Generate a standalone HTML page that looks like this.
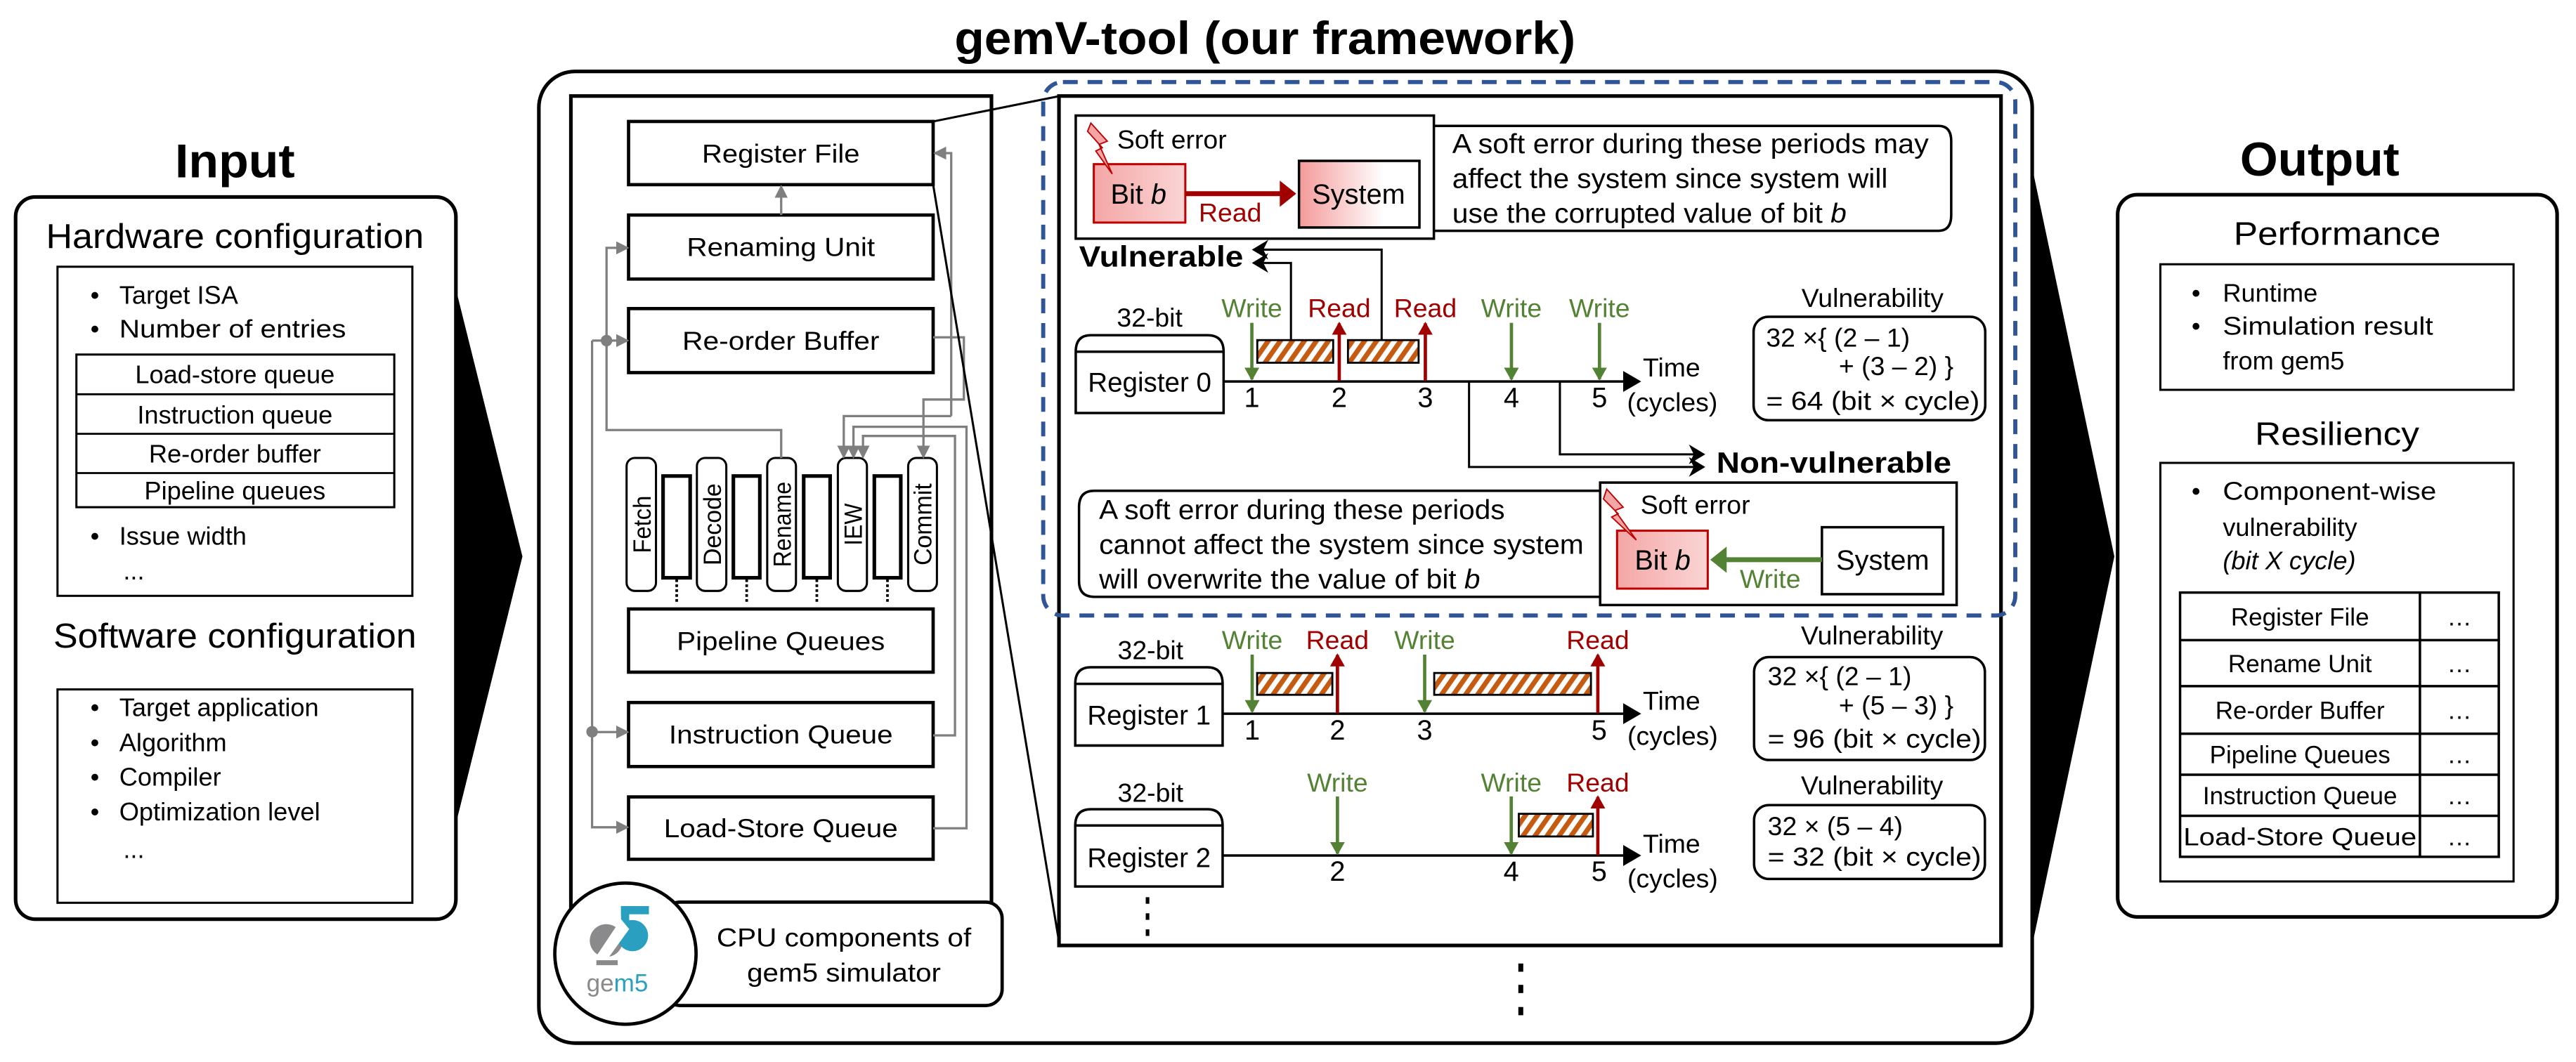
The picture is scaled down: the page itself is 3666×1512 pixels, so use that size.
<!DOCTYPE html>
<html><head><meta charset="utf-8"><style>html,body{margin:0;padding:0;background:#fff}svg{display:block}</style></head><body>
<svg width="3666" height="1512" viewBox="0 0 1568 647" preserveAspectRatio="none" xmlns="http://www.w3.org/2000/svg" font-family="Liberation Sans, Arial, sans-serif">
<defs>
<pattern id="hatch" patternUnits="userSpaceOnUse" width="6" height="6" patternTransform="rotate(35)">
<rect width="6" height="6" fill="#fff"/><rect width="3" height="6" fill="#c55a11"/></pattern>
<linearGradient id="pinkL" x1="0" x2="1"><stop offset="0" stop-color="#f4a6a6"/><stop offset="1" stop-color="#fbd5d5"/></linearGradient>
<linearGradient id="pinkW" x1="0" x2="1"><stop offset="0" stop-color="#f49a9a"/><stop offset="0.7" stop-color="#fff"/></linearGradient>
<marker id="ga" markerWidth="8" markerHeight="8" refX="7" refY="4" orient="auto" markerUnits="userSpaceOnUse"><path d="M0,0 L8,4 L0,8z" fill="#7f7f7f"/></marker>
<marker id="ba" markerWidth="10" markerHeight="12" refX="9" refY="6" orient="auto" markerUnits="userSpaceOnUse"><path d="M0,0 L10,6 L0,12 L3,6z" fill="#000"/></marker>
<marker id="gr" markerWidth="8" markerHeight="9" refX="7" refY="4.5" orient="auto" markerUnits="userSpaceOnUse"><path d="M0,0 L8,4.5 L0,9z" fill="#548235"/></marker>
<marker id="rd" markerWidth="8" markerHeight="9" refX="7" refY="4.5" orient="auto" markerUnits="userSpaceOnUse"><path d="M0,0 L8,4.5 L0,9z" fill="#a00000"/></marker>
</defs>

<text x="770" y="33" font-size="28" font-weight="bold" text-anchor="middle" textLength="378" lengthAdjust="spacingAndGlyphs">gemV-tool (our framework)</text>

<!-- INPUT -->
<text x="143" y="108" font-size="29" font-weight="bold" text-anchor="middle" textLength="73" lengthAdjust="spacingAndGlyphs">Input</text>
<polygon points="270,146 318,339 270,532" fill="#000"/>
<rect x="9.5" y="120" width="268" height="440" rx="12" fill="#fff" stroke="#000" stroke-width="2.2"/>
<text x="143" y="151" font-size="21" text-anchor="middle" textLength="230" lengthAdjust="spacingAndGlyphs">Hardware configuration</text>
<rect x="35" y="162.5" width="216" height="200.5" fill="none" stroke="#000" stroke-width="1.3"/>
<g font-size="15.5">
<text x="55" y="185">•</text><text x="72.6" y="185">Target ISA</text>
<text x="55" y="205.7">•</text><text x="72.6" y="205.7" textLength="138" lengthAdjust="spacingAndGlyphs">Number of entries</text>
<rect x="46.5" y="216" width="193.5" height="93" fill="none" stroke="#000" stroke-width="1.3"/>
<line x1="46.5" y1="240.2" x2="240" y2="240.2" stroke="#000" stroke-width="1.2"/>
<line x1="46.5" y1="264.3" x2="240" y2="264.3" stroke="#000" stroke-width="1.2"/>
<line x1="46.5" y1="288.2" x2="240" y2="288.2" stroke="#000" stroke-width="1.2"/>
<text x="143" y="233.5" text-anchor="middle">Load-store queue</text>
<text x="143" y="258" text-anchor="middle">Instruction queue</text>
<text x="143" y="281.8" text-anchor="middle">Re-order buffer</text>
<text x="143" y="304.3" text-anchor="middle">Pipeline queues</text>
<text x="55" y="331.8">•</text><text x="72.6" y="331.8">Issue width</text>
<text x="75" y="353">...</text>
</g>
<text x="143" y="394.6" font-size="21" text-anchor="middle" textLength="221" lengthAdjust="spacingAndGlyphs">Software configuration</text>
<rect x="35" y="420" width="216" height="130" fill="none" stroke="#000" stroke-width="1.3"/>
<g font-size="15.5">
<text x="55" y="436.3">•</text><text x="72.6" y="436.3">Target application</text>
<text x="55" y="457.6">•</text><text x="72.6" y="457.6">Algorithm</text>
<text x="55" y="478.6">•</text><text x="72.6" y="478.6">Compiler</text>
<text x="55" y="499.7">•</text><text x="72.6" y="499.7">Optimization level</text>
<text x="75" y="522.6">...</text>
</g>

<!-- OUTPUT -->
<polygon points="1234,88 1287,339 1234,590" fill="#000"/>
<text x="1412" y="107" font-size="29" font-weight="bold" text-anchor="middle" textLength="97" lengthAdjust="spacingAndGlyphs">Output</text>
<rect x="1289" y="118.6" width="267.5" height="440" rx="12" fill="#fff" stroke="#000" stroke-width="2.2"/>
<text x="1422.6" y="149.2" font-size="20" text-anchor="middle" textLength="126" lengthAdjust="spacingAndGlyphs">Performance</text>
<rect x="1315" y="161" width="215" height="76.5" fill="none" stroke="#000" stroke-width="1.3"/>
<g font-size="15.5">
<text x="1334" y="183.7">•</text><text x="1353" y="183.7">Runtime</text>
<text x="1334" y="204">•</text><text x="1353" y="204" textLength="128" lengthAdjust="spacingAndGlyphs">Simulation result</text>
<text x="1353" y="225">from gem5</text>
</g>
<text x="1422.6" y="271" font-size="20" text-anchor="middle" textLength="100" lengthAdjust="spacingAndGlyphs">Resiliency</text>
<rect x="1315" y="282" width="215" height="255" fill="none" stroke="#000" stroke-width="1.3"/>
<g font-size="15.5">
<text x="1334" y="304.5">•</text><text x="1353" y="304.5" textLength="130" lengthAdjust="spacingAndGlyphs">Component-wise</text>
<text x="1353" y="326.5">vulnerability</text>
<text x="1353" y="346.9" font-style="italic">(bit X cycle)</text>
</g>
<g stroke="#000" stroke-width="1.5" fill="none">
<rect x="1327" y="361" width="194" height="161"/>
<line x1="1473" y1="361" x2="1473" y2="522"/>
<line x1="1327" y1="390" x2="1521" y2="390"/>
<line x1="1327" y1="418" x2="1521" y2="418"/>
<line x1="1327" y1="447" x2="1521" y2="447"/>
<line x1="1327" y1="472" x2="1521" y2="472"/>
<line x1="1327" y1="497" x2="1521" y2="497"/>
</g>
<g font-size="15" text-anchor="middle">
<text x="1400" y="381">Register File</text><text x="1497" y="381">…</text>
<text x="1400" y="409.5">Rename Unit</text><text x="1497" y="409.5">…</text>
<text x="1400" y="438">Re-order Buffer</text><text x="1497" y="438">…</text>
<text x="1400" y="465">Pipeline Queues</text><text x="1497" y="465">…</text>
<text x="1400" y="490">Instruction Queue</text><text x="1497" y="490">…</text>
<text x="1400" y="515" textLength="142" lengthAdjust="spacingAndGlyphs">Load-Store Queue</text><text x="1497" y="515">…</text>
</g>

<rect x="328" y="43.5" width="909" height="592" rx="22" fill="#fff" stroke="#000" stroke-width="2.2"/>

<rect x="347.5" y="58.5" width="256" height="540" fill="none" stroke="#000" stroke-width="2.2"/>
<g stroke="#000" stroke-width="2" fill="#fff">
<rect x="382.6" y="74" width="185.4" height="38.5"/>
<rect x="382.6" y="131" width="185.4" height="39"/>
<rect x="382.6" y="188" width="185.4" height="39"/>
<rect x="382.6" y="371" width="185.4" height="38.5"/>
<rect x="382.6" y="428" width="185.4" height="39"/>
<rect x="382.6" y="485.5" width="185.4" height="38"/>
</g>
<g font-size="16" text-anchor="middle">
<text x="475.3" y="99" textLength="96" lengthAdjust="spacingAndGlyphs">Register File</text>
<text x="475.3" y="156" textLength="114.5" lengthAdjust="spacingAndGlyphs">Renaming Unit</text>
<text x="475.3" y="213" textLength="120" lengthAdjust="spacingAndGlyphs">Re-order Buffer</text>
<text x="475.3" y="396" textLength="126.7" lengthAdjust="spacingAndGlyphs">Pipeline Queues</text>
<text x="475.3" y="453" textLength="136.3" lengthAdjust="spacingAndGlyphs">Instruction Queue</text>
<text x="475.3" y="510" textLength="142.4" lengthAdjust="spacingAndGlyphs">Load-Store Queue</text>
</g>
<g stroke="#000" stroke-width="1.3" fill="#fff">
<rect x="381.4" y="279" width="17.9" height="81" rx="5"/>
<rect x="424.2" y="279" width="17.9" height="81" rx="5"/>
<rect x="467" y="279" width="17.5" height="81" rx="5"/>
<rect x="510" y="279" width="17.7" height="81" rx="5"/>
<rect x="552.8" y="279" width="17.5" height="81" rx="5"/>
</g>
<g stroke="#000" stroke-width="2.2" fill="#fff">
<rect x="403.6" y="290" width="16.5" height="62"/>
<rect x="446.4" y="290" width="16.1" height="62"/>
<rect x="489.2" y="290" width="16.1" height="62"/>
<rect x="532.2" y="290" width="16.1" height="62"/>
</g>
<g stroke="#000" stroke-width="1.6" stroke-dasharray="1.6,1.4">
<line x1="411.9" y1="353" x2="411.9" y2="368"/>
<line x1="454.5" y1="353" x2="454.5" y2="368"/>
<line x1="497.2" y1="353" x2="497.2" y2="368"/>
<line x1="540.2" y1="353" x2="540.2" y2="368"/>
</g>
<g font-size="15">
<text transform="translate(396,319.5) rotate(-90)" text-anchor="middle" textLength="35" lengthAdjust="spacingAndGlyphs">Fetch</text>
<text transform="translate(438.8,319.5) rotate(-90)" text-anchor="middle" textLength="50" lengthAdjust="spacingAndGlyphs">Decode</text>
<text transform="translate(481.4,319.5) rotate(-90)" text-anchor="middle" textLength="52" lengthAdjust="spacingAndGlyphs">Rename</text>
<text transform="translate(524.5,319.5) rotate(-90)" text-anchor="middle" textLength="25.7" lengthAdjust="spacingAndGlyphs">IEW</text>
<text transform="translate(567,319.5) rotate(-90)" text-anchor="middle" textLength="50" lengthAdjust="spacingAndGlyphs">Commit</text>
</g>
<g stroke="#7f7f7f" stroke-width="1.4" fill="none">
<path d="M475.5,131 V113.5" marker-end="url(#ga)"/>
<path d="M475.5,279 V262 H369.2 V151 H382" marker-end="url(#ga)"/>
<path d="M360.4,207.5 H382" marker-end="url(#ga)"/>
<path d="M360.4,207.5 V504 H382" marker-end="url(#ga)"/>
<path d="M357,446 H382" marker-end="url(#ga)"/>
<path d="M579,253.5 V93.3 H569" marker-end="url(#ga)"/>
<path d="M579,253.5 H513.6 V278.5" marker-end="url(#ga)"/>
<path d="M568,205.5 H586.7 V243.4 H562.1 V278.5" marker-end="url(#ga)"/>
<path d="M568,448 H581.3 V265.6 H525.3 V278.5" marker-end="url(#ga)"/>
<path d="M568,504.6 H588.3 V260 H519.5 V278.5" marker-end="url(#ga)"/>
</g>
<circle cx="369.2" cy="207.5" r="3.5" fill="#7f7f7f"/>
<circle cx="360.4" cy="445.8" r="3.5" fill="#7f7f7f"/>

<rect x="404" y="549.6" width="206" height="63" rx="10" fill="#fff" stroke="#000" stroke-width="2"/>
<text x="513.7" y="576.6" font-size="16" text-anchor="middle" textLength="155" lengthAdjust="spacingAndGlyphs">CPU components of</text>
<text x="513.7" y="598" font-size="16" text-anchor="middle" textLength="118" lengthAdjust="spacingAndGlyphs">gem5 simulator</text>
<circle cx="380.7" cy="581" r="43" fill="#fff" stroke="#000" stroke-width="2"/>
<circle cx="369" cy="573" r="10" fill="#8a8a8c"/>
<circle cx="385" cy="570" r="9.5" fill="#2a9fc0"/>
<rect x="378" y="552" width="17" height="5" fill="#2a9fc0"/>
<rect x="378" y="552" width="5" height="12" fill="#2a9fc0"/>
<polygon points="362,584 378,560 383,566 370,584" fill="#fff"/>
<rect x="363" y="585" width="13" height="3" fill="#8a8a8c"/>
<text x="357" y="604" font-size="15" fill="#8a8a8c">ge<tspan fill="#2a9fc0">m5</tspan></text>

<line x1="568" y1="74" x2="645" y2="58.5" stroke="#000" stroke-width="1.3"/>
<line x1="568" y1="112.5" x2="645" y2="576" stroke="#000" stroke-width="1.3"/>

<rect x="644.6" y="58.5" width="573.4" height="517.5" fill="#fff" stroke="#000" stroke-width="2.2"/>
<rect x="635" y="50" width="591.7" height="325" rx="12" fill="none" stroke="#2f5597" stroke-width="2.5" stroke-dasharray="9,6"/>

<g font-family="Liberation Sans Narrow, Liberation Sans, Arial, sans-serif">
<path d="M872.9,76.7 H1180 Q1187.7,76.7 1187.7,86 V131 Q1187.7,140.6 1180,140.6 H872.9" fill="#fff" stroke="#000" stroke-width="1.5"/>
<rect x="654.8" y="70.4" width="218" height="75" fill="#fff" stroke="#000" stroke-width="1.5"/>
<rect x="665.8" y="100" width="55.7" height="35.6" fill="url(#pinkL)" stroke="#c00000" stroke-width="1.3"/>
<rect x="790.7" y="98" width="73.3" height="40.6" fill="url(#pinkW)" stroke="#000" stroke-width="1.5"/>
<polygon points="664,75 674,86 669,88 677,106 667,92 671,90 662,80" fill="#f4a6a6" stroke="#c00000" stroke-width="0.8"/>
<line x1="721.5" y1="118" x2="780" y2="118" stroke="#a00000" stroke-width="3"/>
<polygon points="779,110 789,118 779,126" fill="#a00000"/>
<text x="680" y="90.5" font-size="16">Soft error</text>
<text x="693" y="124" font-size="17" text-anchor="middle">Bit <tspan font-style="italic">b</tspan></text>
<text x="827" y="124" font-size="17" text-anchor="middle">System</text>
<text x="729.7" y="135" font-size="16" fill="#a00000">Read</text>
<text x="884" y="93.2" font-size="16.5" textLength="290" lengthAdjust="spacingAndGlyphs">A soft error during these periods may</text>
<text x="884" y="114.4" font-size="16.5" textLength="265" lengthAdjust="spacingAndGlyphs">affect the system since system will</text>
<text x="884" y="135.6" font-size="16.5" textLength="240" lengthAdjust="spacingAndGlyphs">use the corrupted value of bit <tspan font-style="italic">b</tspan></text>

<text x="656.8" y="162.5" font-size="18" font-weight="bold" textLength="100" lengthAdjust="spacingAndGlyphs">Vulnerable</text>
<path d="M785.8,207.2 V160.2 H763" fill="none" stroke="#000" stroke-width="1.3" marker-end="url(#ba)"/>
<path d="M841,207.2 V152.1 H763" fill="none" stroke="#000" stroke-width="1.3" marker-end="url(#ba)"/>

<text x="699.8" y="199" font-size="16" text-anchor="middle">32-bit</text>
<path d="M654.8,251.6 V214.3 Q654.8,204.2 664,204.2 H735 Q744.8,204.2 744.8,214.3 V251.6 Z" fill="#fff" stroke="#000" stroke-width="1.5"/>
<line x1="654.8" y1="214.3" x2="744.8" y2="214.3" stroke="#000" stroke-width="1.5"/>
<text x="699.8" y="238.5" font-size="16.5" text-anchor="middle">Register 0</text>
<line x1="744.8" y1="232.4" x2="990" y2="232.4" stroke="#000" stroke-width="1.5"/>
<polygon points="988,226 999,232.4 988,238.8" fill="#000"/>
<rect x="765.3" y="207.2" width="46.2" height="13.8" fill="url(#hatch)" stroke="#000" stroke-width="1.2"/>
<rect x="820.5" y="207.2" width="43" height="13.8" fill="url(#hatch)" stroke="#000" stroke-width="1.2"/>
<g stroke-width="2" fill="none">
<line x1="762" y1="196.7" x2="762" y2="231" stroke="#548235" marker-end="url(#gr)"/>
<line x1="920" y1="196.7" x2="920" y2="231" stroke="#548235" marker-end="url(#gr)"/>
<line x1="973.6" y1="196.7" x2="973.6" y2="231" stroke="#548235" marker-end="url(#gr)"/>
<line x1="815.2" y1="232" x2="815.2" y2="197" stroke="#a00000" marker-end="url(#rd)"/>
<line x1="867.6" y1="232" x2="867.6" y2="197" stroke="#a00000" marker-end="url(#rd)"/>
</g>
<g font-size="16" text-anchor="middle">
<text x="762" y="193.1" fill="#548235">Write</text>
<text x="815.2" y="193.1" fill="#a00000">Read</text>
<text x="867.6" y="193.1" fill="#a00000">Read</text>
<text x="920" y="193.1" fill="#548235">Write</text>
<text x="973.6" y="193.1" fill="#548235">Write</text>
</g>
<g font-size="17" text-anchor="middle">
<text x="762" y="248">1</text><text x="815.2" y="248">2</text><text x="867.6" y="248">3</text><text x="920" y="248">4</text><text x="973.6" y="248">5</text>
</g>
<text x="1000" y="229.4" font-size="16">Time</text>
<text x="990.4" y="250.6" font-size="16">(cycles)</text>
<text x="1139.8" y="187" font-size="16" text-anchor="middle">Vulnerability</text>
<rect x="1067.4" y="193" width="141" height="63" rx="9" fill="#fff" stroke="#000" stroke-width="1.5"/>
<text x="1075" y="211.2" font-size="16">32 ×{ (2 – 1)</text>
<text x="1119.3" y="228.4" font-size="16">+ (3 – 2) }</text>
<text x="1075" y="249.6" font-size="16" textLength="130" lengthAdjust="spacingAndGlyphs">= 64 (bit × cycle)</text>

<path d="M894.2,232.4 V284.5 H1037" fill="none" stroke="#000" stroke-width="1.3" marker-end="url(#ba)"/>
<path d="M949.5,232.4 V276.8 H1037" fill="none" stroke="#000" stroke-width="1.3" marker-end="url(#ba)"/>
<text x="1044.8" y="288" font-size="18" font-weight="bold" textLength="143" lengthAdjust="spacingAndGlyphs">Non-vulnerable</text>

<path d="M974,299 H666 Q656.8,299 656.8,309 V354 Q656.8,363.6 666,363.6 H974" fill="#fff" stroke="#000" stroke-width="1.5"/>
<rect x="974" y="294" width="217" height="74.6" fill="#fff" stroke="#000" stroke-width="1.5"/>
<text x="669" y="316.2" font-size="16.5" textLength="247" lengthAdjust="spacingAndGlyphs">A soft error during these periods</text>
<text x="669" y="337.4" font-size="16.5" textLength="295" lengthAdjust="spacingAndGlyphs">cannot affect the system since system</text>
<text x="669" y="358.6" font-size="16.5" textLength="232" lengthAdjust="spacingAndGlyphs">will overwrite the value of bit <tspan font-style="italic">b</tspan></text>
<rect x="984.3" y="323.3" width="55.2" height="35.3" fill="url(#pinkL)" stroke="#c00000" stroke-width="1.3"/>
<rect x="1109" y="321.2" width="73.8" height="40.8" fill="#fff" stroke="#000" stroke-width="1.5"/>
<polygon points="978,298 988,309 983,311 996,329 981,315 985,313 976,304" fill="#f4a6a6" stroke="#c00000" stroke-width="0.8"/>
<line x1="1109" y1="341" x2="1050" y2="341" stroke="#548235" stroke-width="3"/>
<polygon points="1051,333 1041,341 1051,349" fill="#548235"/>
<text x="998.6" y="313" font-size="16">Soft error</text>
<text x="1012" y="347" font-size="17" text-anchor="middle">Bit <tspan font-style="italic">b</tspan></text>
<text x="1146" y="347" font-size="17" text-anchor="middle">System</text>
<text x="1059" y="358.2" font-size="16" fill="#548235">Write</text>

<text x="700.3" y="401.5" font-size="16" text-anchor="middle">32-bit</text>
<path d="M654.5,454.2 V416.6 Q654.5,406.5 664,406.5 H735 Q744.2,406.5 744.2,416.6 V454.2 Z" fill="#fff" stroke="#000" stroke-width="1.5"/>
<line x1="654.5" y1="416.6" x2="744.2" y2="416.6" stroke="#000" stroke-width="1.5"/>
<text x="699.4" y="441.4" font-size="16.5" text-anchor="middle">Register 1</text>
<line x1="744.2" y1="434.8" x2="990" y2="434.8" stroke="#000" stroke-width="1.5"/>
<polygon points="988,428.4 999,434.8 988,441.2" fill="#000"/>
<rect x="765.2" y="410" width="45.8" height="13.3" fill="url(#hatch)" stroke="#000" stroke-width="1.2"/>
<rect x="873" y="410" width="95.4" height="13.3" fill="url(#hatch)" stroke="#000" stroke-width="1.2"/>
<g stroke-width="2" fill="none">
<line x1="762.2" y1="398.8" x2="762.2" y2="433.5" stroke="#548235" marker-end="url(#gr)"/>
<line x1="867.2" y1="398.8" x2="867.2" y2="433.5" stroke="#548235" marker-end="url(#gr)"/>
<line x1="814.1" y1="434.5" x2="814.1" y2="399" stroke="#a00000" marker-end="url(#rd)"/>
<line x1="972.6" y1="434.5" x2="972.6" y2="399" stroke="#a00000" marker-end="url(#rd)"/>
</g>
<g font-size="16" text-anchor="middle">
<text x="762.2" y="395.3" fill="#548235">Write</text>
<text x="814.1" y="395.3" fill="#a00000">Read</text>
<text x="867.2" y="395.3" fill="#548235">Write</text>
<text x="972.6" y="395.3" fill="#a00000">Read</text>
</g>
<g font-size="17" text-anchor="middle">
<text x="762.2" y="450.6">1</text><text x="814.1" y="450.6">2</text><text x="867.2" y="450.6">3</text><text x="973.4" y="450.6">5</text>
</g>
<text x="1000" y="432.5" font-size="16">Time</text>
<text x="990.6" y="453.8" font-size="16">(cycles)</text>
<text x="1139.5" y="392.6" font-size="16" text-anchor="middle">Vulnerability</text>
<rect x="1067.7" y="400.3" width="140.5" height="62.7" rx="9" fill="#fff" stroke="#000" stroke-width="1.5"/>
<text x="1076" y="417.4" font-size="16">32 ×{ (2 – 1)</text>
<text x="1119.3" y="435.2" font-size="16">+ (5 – 3) }</text>
<text x="1076" y="455.6" font-size="16" textLength="130" lengthAdjust="spacingAndGlyphs">= 96 (bit × cycle)</text>

<text x="700.3" y="488.4" font-size="16" text-anchor="middle">32-bit</text>
<path d="M654.5,540.1 V502.9 Q654.5,493 664,493 H735 Q744.2,493 744.2,502.9 V540.1 Z" fill="#fff" stroke="#000" stroke-width="1.5"/>
<line x1="654.5" y1="502.9" x2="744.2" y2="502.9" stroke="#000" stroke-width="1.5"/>
<text x="699.4" y="528.3" font-size="16.5" text-anchor="middle">Register 2</text>
<line x1="744.2" y1="521.2" x2="990" y2="521.2" stroke="#000" stroke-width="1.5"/>
<polygon points="988,514.8 999,521.2 988,527.6" fill="#000"/>
<rect x="924.5" y="495.8" width="45.1" height="13.8" fill="url(#hatch)" stroke="#000" stroke-width="1.2"/>
<g stroke-width="2" fill="none">
<line x1="814.1" y1="485.2" x2="814.1" y2="520" stroke="#548235" marker-end="url(#gr)"/>
<line x1="919.9" y1="485.2" x2="919.9" y2="520" stroke="#548235" marker-end="url(#gr)"/>
<line x1="972.6" y1="521" x2="972.6" y2="485.5" stroke="#a00000" marker-end="url(#rd)"/>
</g>
<g font-size="16" text-anchor="middle">
<text x="814.1" y="482.2" fill="#548235">Write</text>
<text x="919.9" y="482.2" fill="#548235">Write</text>
<text x="972.6" y="482.2" fill="#a00000">Read</text>
</g>
<g font-size="17" text-anchor="middle">
<text x="814.1" y="536.6">2</text><text x="919.9" y="536.6">4</text><text x="973.4" y="536.6">5</text>
</g>
<text x="1000" y="519.4" font-size="16">Time</text>
<text x="990.6" y="540.7" font-size="16">(cycles)</text>
<text x="1139.5" y="484" font-size="16" text-anchor="middle">Vulnerability</text>
<rect x="1067.7" y="490.5" width="140.5" height="45" rx="9" fill="#fff" stroke="#000" stroke-width="1.5"/>
<text x="1076" y="508.8" font-size="16">32 × (5 – 4)</text>
<text x="1076" y="527.4" font-size="16" textLength="130" lengthAdjust="spacingAndGlyphs">= 32 (bit × cycle)</text>
</g>
<g fill="#000">
<rect x="697.4" y="546.6" width="2.2" height="4"/>
<rect x="697.4" y="556.4" width="2.2" height="4"/>
<rect x="697.4" y="566.2" width="2.2" height="4"/>
<rect x="924.2" y="587" width="3" height="5"/>
<rect x="924.2" y="600" width="3" height="5"/>
<rect x="924.2" y="613.5" width="3" height="5"/>
</g>
</svg>
</body></html>
